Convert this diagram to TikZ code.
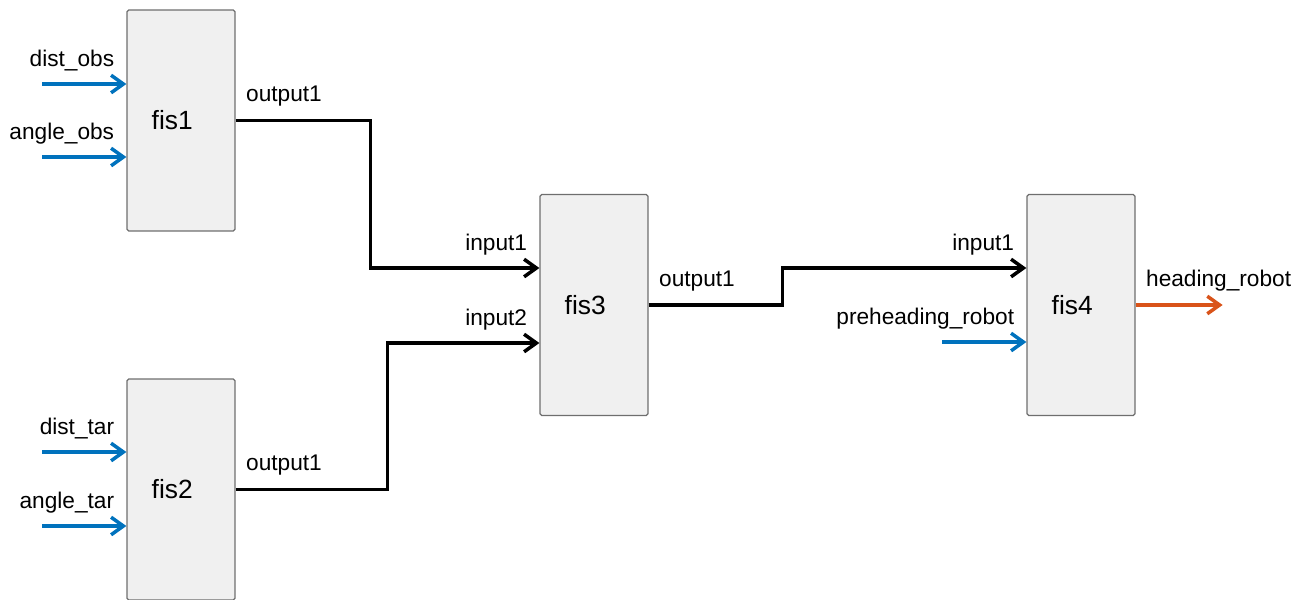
\documentclass[tikz,border=0pt]{standalone}
\usepackage{fontspec}
\setmainfont{Liberation Sans}
\usepackage{xcolor}
\usepackage{tikz}
\usetikzlibrary{positioning, calc, arrows.meta}
\definecolor{inblue}{HTML}{0072BD}
\definecolor{outorange}{HTML}{D95319}
\definecolor{boxgray}{HTML}{F0F0F0}
\definecolor{edgegray}{HTML}{6E6E6E}
\tikzset{
  fisbox/.style={draw=edgegray, fill=boxgray, line width=0.7pt, rounded corners=1pt, minimum width=2.16cm, minimum height=4.42cm, inner sep=0pt, font=\fontsize{15}{17}\selectfont, execute at begin node=\hspace*{-10pt}},
  wire/.style={line width=2pt, -{Straight Barb[length=7pt, width=10pt]}},
  inwire/.style={wire, draw=inblue},
  outwire/.style={wire, draw=outorange},
  lbl/.style={font=\fontsize{12.9}{15}\selectfont, inner sep=0pt},
  inlbl/.style={lbl, anchor=base east, xshift=-6pt, yshift=10pt},
  outlbl/.style={lbl, anchor=base west, xshift=5pt, yshift=10.8pt}
}
\begin{document}
\begin{tikzpicture}[x=0.02cm, y=-0.02cm]
        \useasboundingbox (0,0) rectangle (1302,599);
        \node[fisbox] (fis1) at (181,120.5) {fis1};
        \node[fisbox] (fis2) at (181,489.5) {fis2};
        \node[fisbox] (fis3) at (594,305) {fis3};
        \node[fisbox] (fis4) at (1081,305) {fis4};
        \coordinate (distobs) at (42,84);
        \coordinate (angleobs) at (42,157);
        \coordinate (disttar) at (42,452);
        \coordinate (angletar) at (42,526);
        \coordinate (prehead) at (942,342);
        \coordinate (f3in1) at ($(fis3.west)+(0,-37)$);
        \coordinate (f3in2) at ($(fis3.west)+(0,38)$);
        \coordinate (f4in1) at ($(fis4.west)+(0,-37)$);
        \coordinate (f4in2) at ($(fis4.west)+(0,37)$);
        \draw[inwire] (distobs) -- (distobs -| fis1.west) node[inlbl] {dist\_obs};
        \draw[inwire] (angleobs) -- (angleobs -| fis1.west) node[inlbl] {angle\_obs};
        \draw[inwire] (disttar) -- (disttar -| fis2.west) node[inlbl] {dist\_tar};
        \draw[inwire] (angletar) -- (angletar -| fis2.west) node[inlbl] {angle\_tar};
        \draw[inwire] (prehead) -- (f4in2) node[inlbl] {preheading\_robot};
        \draw[wire] (fis1.east) node[outlbl] {output1} -- ++(135,0) |- (f3in1) node[inlbl] {input1};
        \draw[wire] (fis2.east) node[outlbl] {output1} -- ++(152,0) |- (f3in2) node[inlbl] {input2};
        \draw[wire] (fis3.east) node[outlbl] {output1} -- ++(134,0) |- (f4in1) node[inlbl] {input1};
        \draw[outwire] (fis4.east) node[outlbl] {heading\_robot} -- ++(87,0) coordinate (headrobot);
      \end{tikzpicture}
\end{document}
